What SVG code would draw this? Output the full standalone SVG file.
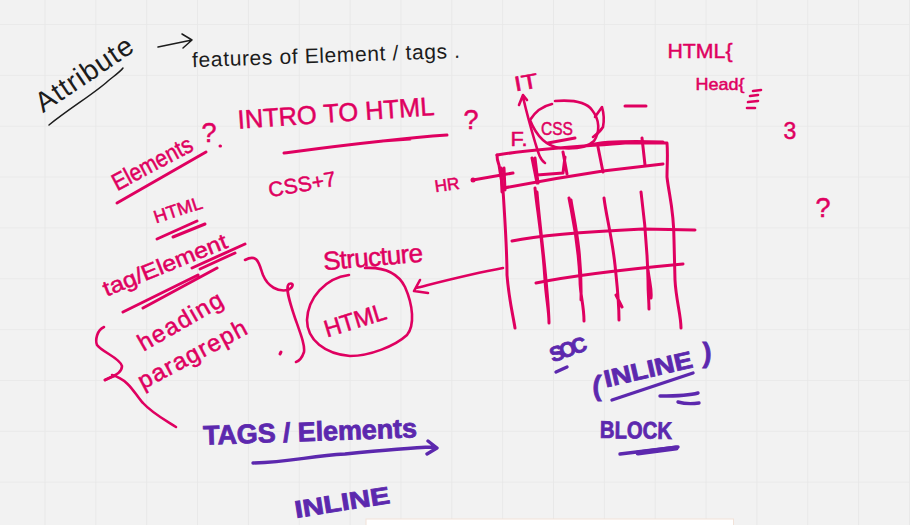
<svg xmlns="http://www.w3.org/2000/svg" width="910" height="525" viewBox="0 0 910 525">
<defs>
<pattern id="grid" x="44.5" y="24" width="50.85" height="50.85" patternUnits="userSpaceOnUse"><path d="M0 0V50.85M0 0H50.85" fill="none" stroke="#e7e7e7" stroke-width="1.6"/></pattern>
</defs>
<style>
text{font-family:"Liberation Sans",Arial,sans-serif;text-anchor:middle;dominant-baseline:central}
.k{fill:#1c1c1c}
.pb{fill:#df0060;stroke:#df0060;stroke-width:.5px}
.vb{fill:#5c28ae;stroke:#5c28ae;stroke-width:.8px;font-weight:bold}
path{fill:none;stroke-linecap:round;stroke-linejoin:round}
.sk{stroke:#1c1c1c;stroke-width:1.5}
.sp{stroke:#df0060;stroke-width:2.6}
.st{stroke:#df0060;stroke-width:3}
.sv{stroke:#5c28ae;stroke-width:3.4}
</style>
<rect width="910" height="525" fill="#f2f2f2"/>
<rect width="910" height="525" fill="url(#grid)"/>
<rect x="366" y="519" width="367.500" height="8" fill="#fff" stroke="#f2e2d8"/>

<g id="black-ink">
<path class="sk" d="M49 125C70 108 95 93 108 81C114 76 120 72 123 68"/>
<path class="sk" d="M158 47L192 40M182 34L192 40L183 48"/>
<text class="k" transform="translate(84 74) rotate(-34)" font-size="28" textLength="112" lengthAdjust="spacing">Attribute</text>
<text class="k" transform="translate(326 55) rotate(-2)" font-size="21" textLength="268" lengthAdjust="spacing">features of Element / tags .</text>
</g>

<g id="pink-ink">
<text class="pb" transform="translate(336 113) rotate(-4)" font-size="26" textLength="197" lengthAdjust="spacingAndGlyphs">INTRO TO HTML</text>
<path class="st" d="M284 153C330 147 390 139 447 135M382 141L410 139"/>
<text class="pb" transform="translate(152 163) rotate(-28)" font-size="24" textLength="88" lengthAdjust="spacingAndGlyphs">Elements</text>
<path class="st" d="M117 203L206 152"/>
<text class="pb" transform="translate(209 133)" font-size="27">?</text>
<path class="st" d="M220 146L220.500 146"/>
<text class="pb" transform="translate(471 120)" font-size="27">?</text>
<text class="pb" transform="translate(302 184) rotate(-10)" font-size="21" textLength="68" lengthAdjust="spacing">CSS+7</text>
<text class="pb" transform="translate(178 210) rotate(-18)" font-size="18" textLength="50" lengthAdjust="spacingAndGlyphs">HTML</text>
<path class="st" d="M157 239L197 221M173 237L205 224"/>
<text class="pb" transform="translate(165 265) rotate(-22)" font-size="22" textLength="132" lengthAdjust="spacingAndGlyphs">tag/Element</text>
<path class="st" d="M192 268L245 244M200 269L235 253M123 312L198 275M143 308L217 268"/>
<text class="pb" transform="translate(180 321) rotate(-30)" font-size="24" textLength="94" lengthAdjust="spacing">heading</text>
<text class="pb" transform="translate(192 354) rotate(-28)" font-size="24" textLength="120" lengthAdjust="spacing">paragreph</text>
<path class="sp" d="M104 327C97 330 95 340 97 345C102 352 120 358 122 366C122 372 118 374 105 380M112 375C130 380 135 395 143 403C152 413 165 420 176 427"/>
<path class="st" d="M105 380L114 376"/>
<path class="sp" d="M245 260C258 253 259 264 263 275C268 287 278 292 288 290C294 287 294 282 289 284C285 287 289 300 295 318C301 335 305 345 304 352C302 358 299 361 296 362"/>
<path class="st" d="M280 354L281 352"/>
<text class="pb" transform="translate(373 257) rotate(-5)" font-size="26" textLength="100" lengthAdjust="spacing">Structure</text>
<path class="sp" d="M349 275C325 278 308 298 307 320C307 340 325 354 350 356C370 356 395 346 407 335C415 325 413 305 405 287C398 273 385 267 365 268"/>
<text class="pb" transform="translate(355 320) rotate(-17)" font-size="24" textLength="64" lengthAdjust="spacingAndGlyphs">HTML</text>
<path class="sp" d="M503 268C470 274 440 282 416 288M420 280L414 291L428 293"/>
<text class="pb" transform="translate(526 82) rotate(-10)" font-size="21" textLength="24" lengthAdjust="spacingAndGlyphs">IT</text>
<text class="pb" transform="translate(519 138)" font-size="21" textLength="17" lengthAdjust="spacingAndGlyphs">F.</text>
<text class="pb" transform="translate(557 128)" font-size="19" textLength="32" lengthAdjust="spacingAndGlyphs">CSS</text>
<text class="pb" transform="translate(447 185) rotate(-8)" font-size="17" textLength="25" lengthAdjust="spacingAndGlyphs">HR</text>
<path class="st" d="M548 143L575 138"/>
<path class="sp" d="M555 101C568 100 585 100 592 110C600 120 600 132 594 141C587 148 572 149 560 148C545 146 536 135 530 120C535 112 543 106 552 104"/>
<path class="sp" d="M595 117L602 107C604 114 604 122 603 127C600 132 596 135 593 137M545 163C540 160 538 152 535 142C530 125 526 110 523 97M519 105L523 95L527 100"/>
<path class="st" d="M625 106L646 106"/>
<g id="table">
<path class="st" d="M497 155C540 148 590 146 625 143L667 143C668 155 667 165 667 177C669 195 674 210 674 240L675 280C676 300 681 315 681 328"/>
<path class="st" d="M590 145C605 141 630 141 663 142M497 155C497 160 498 162 499 165L503 190C505 220 507 260 507 275C509 300 513 315 515 328M504 188C530 183 570 176 603 171L663 164"/>
<path class="st" d="M473 180L513 173M501 168L502 192M504 168L505 190M532 158L537 183M535 158L538 183M563 152L567 174M598 147L603 172M642 138L645 165M537 175L563 173L565 157"/>
<circle cx="473" cy="180" r="2.500" fill="#df0060"/>
<path class="st" d="M535 188C537 210 542 233 545 280C546 298 549 310 549 323M537 192C540 230 548 285 549 322"/>
<path class="st" d="M569 198C572 215 578 237 580 280C580 295 584 305 584 321M571 200C574 220 582 250 581 300"/>
<path class="st" d="M604 198C606 215 612 237 615 265C617 285 619 300 619 320M616 295L622 307"/>
<path class="st" d="M641 192C644 215 647 237 648 280C648 295 649 300 649 309M648 270C650 285 652 290 651 298"/>
<path class="st" d="M512 241C540 235 600 231 643 229L695 230M536 283C580 274 640 268 683 264"/>
</g>
<text class="pb" transform="translate(700 50)" font-size="21" textLength="65" lengthAdjust="spacingAndGlyphs">HTML{</text>
<text class="pb" transform="translate(720 84)" font-size="17" textLength="49" lengthAdjust="spacingAndGlyphs">Head{</text>
<path class="sp" d="M753 91L761 90M750 96L758 95M748 102L758 101M747 108L755 108"/>
<text class="pb" transform="translate(790 131)" font-size="23">3</text>
<text class="pb" transform="translate(823 208)" font-size="27">?</text>
</g>

<g id="purple-ink">
<text class="vb" transform="translate(310 432) rotate(-2)" font-size="27" textLength="214" lengthAdjust="spacing">TAGS / Elements</text>
<path class="sv" d="M253 463C290 462 310 456 345 454C375 451 405 448 433 447M428 441L437 448L427 454"/>
<text class="vb" transform="translate(342 502) rotate(-9)" font-size="24" textLength="96" lengthAdjust="spacingAndGlyphs">INLINE</text>
<text class="vb" transform="translate(568 349) rotate(-20)" font-size="21" textLength="38" lengthAdjust="spacing">SOC</text>
<path class="sv" d="M556 372L567 367"/>
<text class="vb" transform="translate(648 369) rotate(-13)" font-size="24" textLength="90" lengthAdjust="spacingAndGlyphs">INLINE</text>
<text class="vb" transform="translate(597 386)" font-size="27">(</text>
<text class="vb" transform="translate(707 353)" font-size="27">)</text>
<path class="sv" d="M612 400L693 373M660 396C675 396 688 396 698 393M678 402C685 404 692 404 699 403"/>
<text class="vb" transform="translate(636 430) rotate(1)" font-size="24" textLength="72" lengthAdjust="spacingAndGlyphs">BLOCK</text>
<path class="sv" d="M620 454L678 447"/>
<path d="M638 453L676 448" stroke="#5c28ae" stroke-width="5"/>
</g>
</svg>
